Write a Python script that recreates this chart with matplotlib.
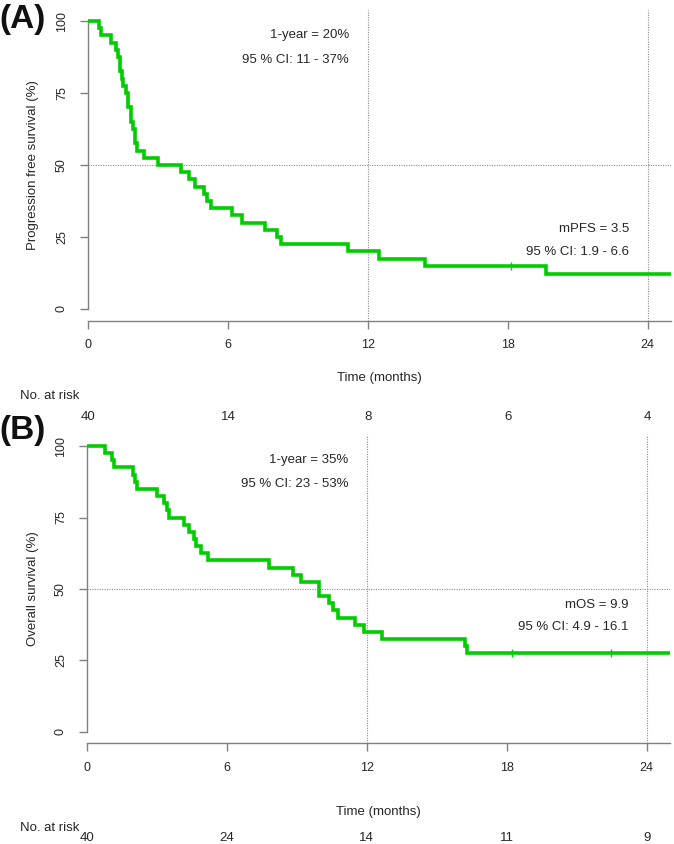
import matplotlib
matplotlib.use("Agg")
import matplotlib.pyplot as plt

plt.rcParams['font.family'] = ['Liberation Sans', 'DejaVu Sans']

# ---------------- data ----------------
pfs_times = [0, 0.47, 0.56, 0.99, 1.18, 1.29, 1.38, 1.45, 1.52, 1.61, 1.73, 1.83, 1.91, 2.01, 2.08, 2.42,
             2.99, 3.99, 4.33, 4.59, 4.97, 5.11, 5.26, 6.19, 6.59, 7.61, 8.11, 8.26, 11.16, 12.49,
             14.47, 19.66]
pfs_surv = [100, 97.5, 95, 92.5, 90, 87.5, 82.5, 80, 77.5, 75, 70, 65, 62.5, 57.5, 55, 52.5,
            50, 47.5, 45, 42.5, 40, 37.5, 35, 32.5, 30, 27.5, 25, 22.5, 20, 17.5,
            15, 12]
pfs_censor_t = [18.13]
pfs_censor_s = [15]

os_times = [0, 0.76, 1.07, 1.15, 1.97, 2.05, 2.13, 2.99, 3.32, 3.43, 3.53, 4.17, 4.39, 4.57, 4.69, 4.89,
            5.17, 7.82, 8.85, 9.18, 9.96, 10.38, 10.56, 10.76, 11.48, 11.86, 12.67, 16.19, 16.30]
os_surv = [100, 97.5, 95, 92.5, 90, 87.5, 85, 82.5, 80, 77.5, 75, 72.5, 70, 67.5, 65, 62.5,
           60, 57.5, 55, 52.5, 47.5, 45, 42.5, 40, 37.5, 35, 32.5, 30, 27.5]
os_censor_t = [18.22, 22.45]
os_censor_s = [27.5, 27.5]

x_ticks = [0, 6, 12, 18, 24]
y_ticks = [0, 25, 50, 75, 100]
pfs_risk = [40, 14, 8, 6, 4]
os_risk = [40, 24, 14, 11, 9]

XMAX = 25
GREEN = '#00CD00'
TXT = '#262626'
AXC = '#808080'
W, H = 674, 844
FS = 9.5     # annotation / titles
FT = 9.0     # tick labels
FR = 9.5     # numbers at risk

fig = plt.figure(figsize=(W / 100, H / 100), dpi=100)


def fx(px):
    return px / W


def fy(py):
    return 1 - py / H


def make_panel(top_px, bottom_px, left_px, right_px, times, surv, ct, cs, ylabel,
               ann_top, ann_bottom):
    ax = fig.add_axes([fx(left_px), fy(bottom_px), fx(right_px) - fx(left_px),
                       fy(top_px) - fy(bottom_px)])
    ax.set_xlim(0, XMAX)
    ax.set_ylim(-4, 104)
    # reference lines
    ax.axhline(50, color='#8c8c8c', ls=(0, (1, 1.2)), lw=0.8, zorder=1)
    for v in (12, 24):
        ax.axvline(v, color='#8c8c8c', ls=(0, (1, 1.2)), lw=0.8, zorder=1)
    ax.step(list(times) + [XMAX + 1], list(surv) + [surv[-1]], where='post',
            color=GREEN, lw=2.6, zorder=3, solid_joinstyle='miter')
    ax.plot(ct, cs, ls='none', marker='|', ms=6, mew=1.0, color=GREEN, zorder=4)
    for s in ('top', 'right'):
        ax.spines[s].set_visible(False)
    ax.spines['left'].set_bounds(0, 100)
    ax.spines['bottom'].set_bounds(0, XMAX)
    for s in ('left', 'bottom'):
        ax.spines[s].set_color(AXC)
        ax.spines[s].set_linewidth(1.0)
    ax.set_xticks(x_ticks)
    ax.set_yticks(y_ticks)
    ax.set_yticklabels([str(v) for v in y_ticks], rotation=90, va='center')
    ax.tick_params(axis='both', colors=AXC, labelcolor=TXT, labelsize=FT,
                   length=6, width=1.0, direction='out')
    ax.tick_params(axis='x', pad=7.5)
    ax.tick_params(axis='y', pad=8.5)
    yc = fy((top_px + bottom_px) / 2)
    fig.text(fx(33), yc, ylabel, rotation=90, ha='center', va='center', fontsize=FS, color=TXT)
    (t1, t2) = ann_top
    ax.text(11.2, 95.1, t1, ha='right', va='center', fontsize=FS, color=TXT)
    ax.text(11.2, 86.6, t2, ha='right', va='center', fontsize=FS, color=TXT)
    (b1, b2, yb1, yb2) = ann_bottom
    ax.text(23.2, yb1, b1, ha='right', va='center', fontsize=FS, color=TXT)
    ax.text(23.2, yb2, b2, ha='right', va='center', fontsize=FS, color=TXT)
    return ax


axA = make_panel(9.5, 320.5, 88, 671, pfs_times, pfs_surv, pfs_censor_t, pfs_censor_s,
                 'Progression free survival (%)',
                 ('1-year = 20%', '95 % CI: 11 - 37%'),
                 ('mPFS = 3.5', '95 % CI: 1.9 - 6.6', 27.8, 19.8))
axB = make_panel(434.6, 743.4, 87, 670, os_times, os_surv, os_censor_t, os_censor_s,
                 'Overall survival (%)',
                 ('1-year = 35%', '95 % CI: 23 - 53%'),
                 ('mOS = 9.9', '95 % CI: 4.9 - 16.1', 44.4, 36.7))

# x-axis titles
fig.text(fx(379), fy(378), 'Time (months)', ha='center', va='center', fontsize=FS, color=TXT)
fig.text(fx(378), fy(812), 'Time (months)', ha='center', va='center', fontsize=FS, color=TXT)

# number at risk
fig.text(fx(20), fy(396), 'No. at risk', ha='left', va='center', fontsize=FS, color=TXT)
fig.text(fx(20), fy(828), 'No. at risk', ha='left', va='center', fontsize=FS, color=TXT)
for ax, risk, ypx in ((axA, pfs_risk, 417), (axB, os_risk, 838)):
    for t, n in zip(x_ticks, risk):
        xd = ax.transData.transform((t, 0))[0]
        fig.text(xd / fig.dpi / fig.get_figwidth(), fy(ypx), str(n), ha='center', va='center',
                 fontsize=FR, color=TXT)

# panel letters
fig.text(fx(-1), fy(28), '(A)', ha='left', va='baseline', fontsize=24, fontweight='bold', color='#111111')
fig.text(fx(-1), fy(439), '(B)', ha='left', va='baseline', fontsize=24, fontweight='bold', color='#111111')

fig.savefig('out.png', dpi=100)
